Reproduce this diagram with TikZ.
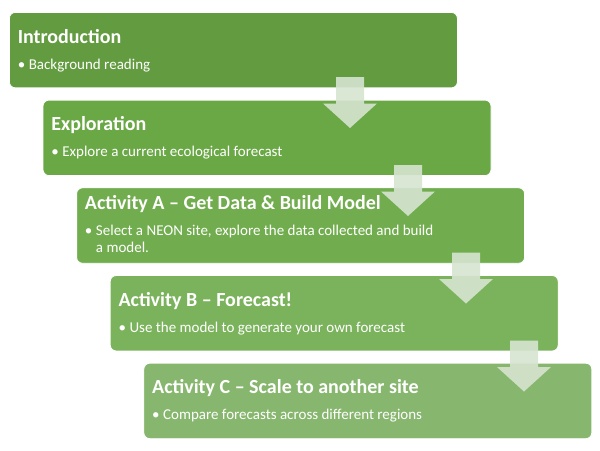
\documentclass[tikz,border=0pt]{standalone}
\usepackage{fontspec}
\setmainfont{Carlito}
\definecolor{stepA}{RGB}{99,155,64}
\definecolor{stepB}{RGB}{106,168,70}
\definecolor{stepC}{RGB}{113,173,78}
\definecolor{stepD}{RGB}{123,179,93}
\definecolor{stepE}{RGB}{135,183,110}
\definecolor{arrowfill}{RGB}{214,228,208}
\tikzset{
  stepbox/.style={draw=white, line width=0.6pt, rounded corners=4.5pt,
    minimum width=336pt, minimum height=56.6pt, inner sep=0, anchor=north west},
  titletext/.style={text=white, font=\fontsize{15}{17}\selectfont\bfseries,
    inner sep=0, anchor=base west},
  bullettext/.style={text=white, font=\fontsize{11.25}{12.4}\selectfont,
    inner sep=0, anchor=base west},
  blockarrow/.style={fill=arrowfill, fill opacity=0.9},
}
\begin{document}
\begin{tikzpicture}[x=0.75pt, y=-0.75pt]
  \useasboundingbox (0,0) rectangle (600,450);
  \foreach \col/\ttl/\txt/\dy [count=\i from 0] in {
      stepA/Introduction/Background reading/0,
      stepB/Exploration/Explore a current ecological forecast/0,
      stepC/{Activity A -- Get Data \& Build Model}/{Select a NEON site, explore the data collected and build\\a model.}/-8.5,
      stepD/{Activity B -- Forecast!}/Use the model to generate your own forecast/0,
      stepE/{Activity C -- Scale to another site}/Compare forecasts across different regions/0} {
    \begin{scope}[shift={(9+\i*33.6,12+\i*87.7)}]
      \node [stepbox, fill=\col] (box\i) at (0,0) {};
      \node [titletext] (title\i) at (8.5,31+\dy) {\ttl};
      \node [bullettext] (dot\i) at (8.5,57+\dy) {•};
      \node [bullettext] (text\i) at (19.5,57+\dy)
        {\begin{tabular}[t]{@{}l@{}}\txt\end{tabular}};
    \end{scope}
  }
  % arrows between the steps
  \foreach \cx/\ty in {350/77, 408/165, 466/252.5, 524/340.5} {
    \fill [blockarrow] (\cx-14,\ty) -- (\cx+14,\ty) -- (\cx+14,\ty+26.5)
      -- (\cx+27,\ty+26.5) -- (\cx,\ty+51) -- (\cx-27,\ty+26.5)
      -- (\cx-14,\ty+26.5) -- cycle;
  }
\end{tikzpicture}
\end{document}
